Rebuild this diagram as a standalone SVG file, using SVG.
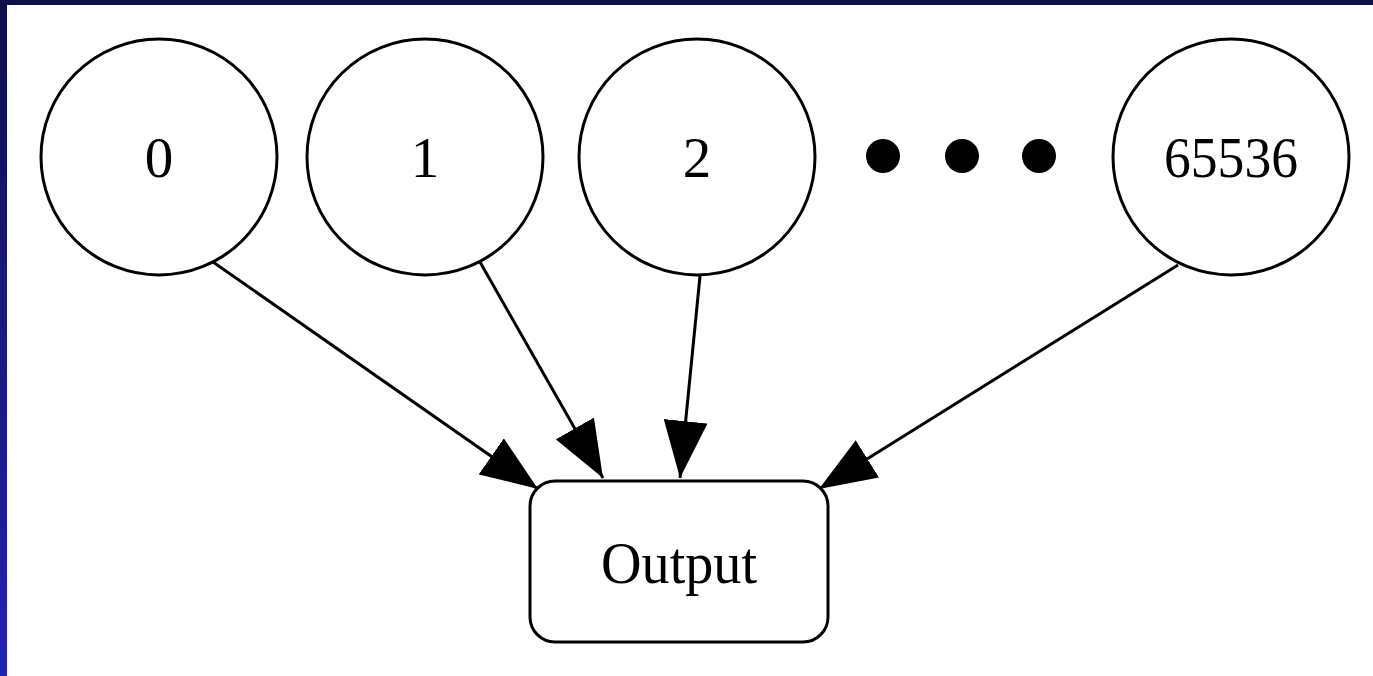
<svg xmlns="http://www.w3.org/2000/svg" width="1373" height="676" viewBox="0 0 1373 676">
<style>
.node{fill:#ffffff;stroke:#000000;stroke-width:3}
.lbl{font-family:"Liberation Serif","Times New Roman",serif;font-size:57px;fill:#000000;text-anchor:middle}
.edge{stroke:#000000;stroke-width:3;fill:none;marker-end:url(#ah)}
.dot{fill:#000000}
</style>
<defs>
<linearGradient id="side" x1="0" y1="0" x2="0" y2="1">
<stop offset="0" stop-color="#0f0f4a"/>
<stop offset="1" stop-color="#2323b4"/>
</linearGradient>
<marker id="ah" viewBox="0 0 57 44" refX="57" refY="22" markerWidth="57" markerHeight="44" markerUnits="userSpaceOnUse" orient="auto">
<path d="M0,0 L57,22 L0,44 Z" fill="#000000"/>
</marker>
</defs>
<rect x="0" y="0" width="1373" height="676" fill="#ffffff"/>
<rect x="0" y="0" width="1373" height="5" fill="#0f0f4a"/>
<rect x="0" y="0" width="7" height="676" fill="url(#side)"/>
<g id="edges">
<line class="edge" x1="213" y1="262" x2="538" y2="489"/>
<line class="edge" x1="480" y1="262" x2="603" y2="478"/>
<line class="edge" x1="700" y1="276" x2="680" y2="478"/>
<line class="edge" x1="1178" y1="265" x2="819" y2="489"/>
</g>
<g id="n0">
<circle class="node" cx="159" cy="157" r="118"/>
<text class="lbl" x="159" y="177">0</text>
</g>
<g id="n1">
<circle class="node" cx="425" cy="157" r="118"/>
<text class="lbl" x="425" y="177">1</text>
</g>
<g id="n2">
<circle class="node" cx="697" cy="157" r="118"/>
<text class="lbl" x="697" y="177">2</text>
</g>
<g id="ellipsis">
<circle class="dot" cx="883" cy="156" r="17"/>
<circle class="dot" cx="962" cy="156" r="17"/>
<circle class="dot" cx="1039" cy="156" r="17"/>
</g>
<g id="n65536">
<circle class="node" cx="1231" cy="157" r="118"/>
<text class="lbl" x="1231" y="177" textLength="134" lengthAdjust="spacingAndGlyphs">65536</text>
</g>
<g id="output">
<rect class="node" x="530" y="481" width="298" height="161" rx="25" ry="25"/>
<text class="lbl" x="679" y="583" font-size="60" textLength="156" lengthAdjust="spacingAndGlyphs" style="font-size:60px">Output</text>
</g>
</svg>
